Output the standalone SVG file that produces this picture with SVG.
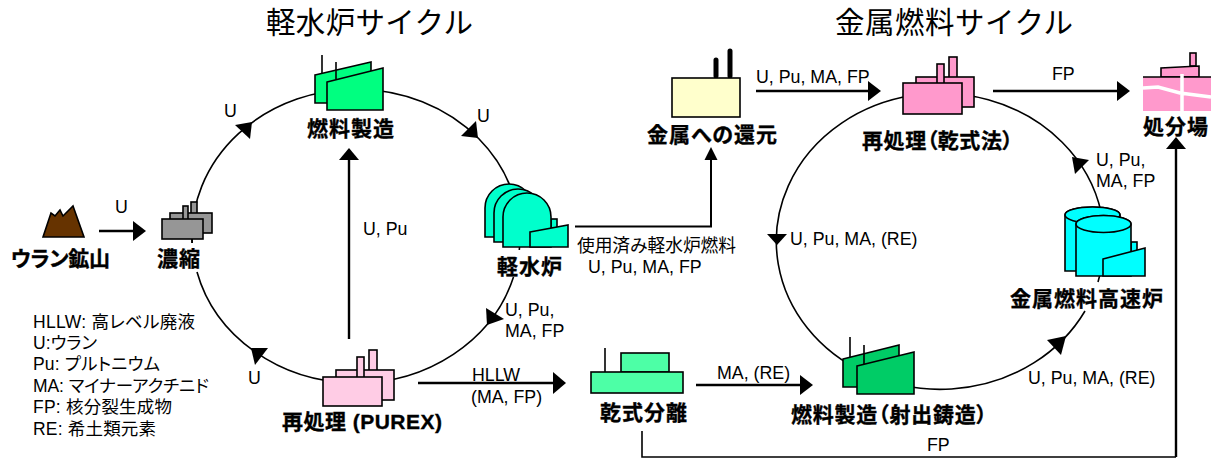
<svg xmlns="http://www.w3.org/2000/svg" width="1213" height="459" viewBox="0 0 1213 459">
<style>
text{font-family:"Liberation Sans","Noto Sans CJK JP",sans-serif;fill:#000}
.t{font-size:29.5px;font-family:"Noto Sans CJK JP",sans-serif}
.n{font-size:21px;font-weight:700;font-feature-settings:"palt";stroke:#000;stroke-width:.35}
.e{font-size:17.8px}
.l{font-size:17.5px;font-feature-settings:"palt"}
.s{stroke:#000;stroke-width:1.6}
.c{fill:none;stroke:#000;stroke-width:1.6}
.a{fill:none;stroke:#000;stroke-width:2.4}
.h{fill:#000;stroke:none}
</style>
<rect width="1213" height="459" fill="#fff"/>
<g id="titles">
<text class="t" x="266" y="33" textLength="207">軽水炉サイクル</text>
<text class="t" x="835" y="33" textLength="238">金属燃料サイクル</text>
</g>
<g id="connectors">
<path class="c" d="M513.5,277 A164,147 0 0 1 197,272"/>
<path class="c" d="M192.2,243 A164,147 0 1 1 519.3,250"/>
<path class="c" d="M1085,311 A164,148 0 1 1 1098,282"/>
<path class="h" d="M252,122 L235,125 L250,139Z"/>
<path class="h" d="M478,138 L461,136 L476,121Z"/>
<path class="h" d="M487,325 L486,308 L504,319Z"/>
<path class="h" d="M251,348 L268,348 L255,365Z"/>
<path class="h" d="M1072,157 L1089,160 L1075,174Z"/>
<path class="h" d="M777,245 L767,234 L787,234Z"/>
<path class="h" d="M1066,336 L1047,340 L1061,355Z"/>
<path class="a" d="M99,231 H134"/><path class="h" d="M146,231 L133,221 V241Z"/>
<path class="a" d="M349,339 V159"/><path class="h" d="M349,148 L339,160 H359Z"/>
<path class="a" d="M575,226.500 H711 V159" style="stroke-width:2"/><path class="h" d="M711,147 L704.500,160 H717.500Z"/>
<path class="a" d="M756,91 H869"/><path class="h" d="M881,91 L868,81 V101Z"/>
<path class="a" d="M993,91 H1118"/><path class="h" d="M1130,91 L1117,81 V101Z"/>
<path class="c" d="M642,431 V457 H1176"/>
<path class="a" d="M1176,457 V148"/><path class="h" d="M1176,137 L1166,149 H1186Z"/>
<path class="a" d="M418,383 H554"/><path class="h" d="M566,383 L553,372 V394Z"/>
<path class="a" d="M696,385 H801"/><path class="h" d="M813,385 L800,375 V395Z"/>
</g>
<g id="edge-labels">
<text class="e" x="224" y="117">U</text>
<text class="e" x="115" y="213">U</text>
<text class="e" x="363" y="235">U, Pu</text>
<text class="e" x="477" y="122">U</text>
<text class="e" x="577" y="252" textLength="159">使用済み軽水炉燃料</text>
<text class="e" x="588" y="273">U, Pu, MA, FP</text>
<text class="e" x="505" y="316">U, Pu,</text>
<text class="e" x="505" y="337">MA, FP</text>
<text class="e" x="472" y="381">HLLW</text>
<text class="e" x="471" y="403">(MA, FP)</text>
<text class="e" x="248" y="384">U</text>
<text class="e" x="717" y="379">MA, (RE)</text>
<text class="e" x="756" y="83">U, Pu, MA, FP</text>
<text class="e" x="1052" y="80">FP</text>
<text class="e" x="1096" y="166">U, Pu,</text>
<text class="e" x="1096" y="187">MA, FP</text>
<text class="e" x="790" y="245">U, Pu, MA, (RE)</text>
<text class="e" x="1028" y="384">U, Pu, MA, (RE)</text>
<text class="e" x="927" y="451">FP</text>
</g>
<g id="legend">
<text class="l" x="33" y="328" textLength="162">HLLW: 高レベル廃液</text>
<text class="l" x="33" y="349" textLength="64">U:ウラン</text>
<text class="l" x="33" y="370" textLength="127">Pu: プルトニウム</text>
<text class="l" x="33" y="392" textLength="176">MA: マイナーアクチニド</text>
<text class="l" x="33" y="413" textLength="139">FP: 核分裂生成物</text>
<text class="l" x="33" y="435" textLength="123">RE: 希土類元素</text>
</g>
<g id="node-mine">
<path class="s" fill="#663300" d="M43,237 L51,213 L55,216 L60,210 L63,216 L73,206 L84,237Z"/>
<text class="n" x="11" y="266" textLength="99">ウラン鉱山</text>
</g>
<g id="node-enrichment" fill="#969696">
<rect class="s" x="191" y="202" width="6" height="12"/>
<rect class="s" x="170" y="213" width="42" height="20"/>
<rect class="s" x="183" y="206" width="5" height="14"/>
<rect class="s" x="162" y="219" width="41" height="20"/>
<path class="s" d="M192,239 V243"/>
<text class="n" x="157" y="266" textLength="43">濃縮</text>
</g>
<g id="node-fuel-fab" fill="#00ff80">
<path class="s" d="M322,55 V73"/>
<path class="s" d="M315,75 L371,62 V103 H315Z"/>
<path class="s" d="M327,82 L383,68 V110 H327Z"/>
<path class="s" d="M336,62 V79"/>
<text class="n" x="307" y="136" textLength="87">燃料製造</text>
</g>
<g id="node-lwr" fill="#00ffcc">
<path class="s" d="M485,237 V208 A24,24 0 0 1 533,208 V237Z"/>
<path class="s" d="M494,242 V213 A24,24 0 0 1 542,213 V242Z"/>
<rect class="s" x="551" y="219" width="6" height="9"/>
<path class="s" d="M503,247 V217 A24,24 0 0 1 551,217 V247Z"/>
<path class="s" d="M530,232 L568,225 V247 H530Z"/>
<text class="n" x="497" y="274" textLength="65">軽水炉</text>
</g>
<g id="node-purex" fill="#ffcce5">
<rect class="s" x="369" y="350" width="8" height="21"/>
<rect class="s" x="336" y="370" width="58" height="30"/>
<rect class="s" x="357" y="357" width="7" height="21"/>
<rect class="s" x="323" y="377" width="59" height="29"/>
<text class="n" x="282" y="429" textLength="160">再処理 (PUREX)</text>
</g>
<g id="node-reduction">
<path d="M716,76 V60 M730,76 V51" fill="none" stroke="#000" stroke-width="5" stroke-linecap="round"/>
<rect class="s" x="672" y="78" width="68" height="39" fill="#ffffcc"/>
<text class="n" x="647" y="142" textLength="130">金属への還元</text>
</g>
<g id="node-dry-separation" fill="#4dffa6">
<path class="s" d="M605,348 V372"/>
<rect class="s" x="621" y="353" width="48" height="19"/>
<rect class="s" x="591" y="372" width="92" height="21"/>
<text class="n" x="600" y="420" textLength="87">乾式分離</text>
</g>
<g id="node-dry-reprocessing" fill="#ff99cc">
<rect class="s" x="949" y="57" width="8" height="21"/>
<rect class="s" x="916" y="77" width="58" height="30"/>
<rect class="s" x="937" y="64" width="7" height="20"/>
<rect class="s" x="903" y="83" width="59" height="31"/>
<text class="n" x="862" y="148" textLength="151">再処理（乾式法）</text>
</g>
<g id="node-disposal">
<rect x="1190" y="53" width="6" height="13" class="s" fill="#ff99cc"/>
<path class="s" fill="#ff99cc" d="M1161,77 V68 L1199,66 V77Z"/>
<rect x="1143" y="77" width="68" height="34" fill="#ff99cc"/>
<path class="s" d="M1143,77 H1211"/>
<path d="M1143,88 L1158,87 L1180,93 L1211,97 M1182,74 V111" fill="none" stroke="#fff" stroke-width="3.500"/>
<text class="n" x="1143" y="134" textLength="65">処分場</text>
</g>
<g id="node-fast-reactor" fill="#00ffff">
<path class="s" d="M1065,215 A27.500,8 0 0 1 1120,215 V271 H1065Z"/>
<ellipse class="s" cx="1092.500" cy="215" rx="27.500" ry="8"/>
<rect class="s" x="1131" y="242" width="6" height="10"/>
<path class="s" d="M1076,224 A27.500,8.500 0 0 1 1131,224 V276 H1076Z"/>
<ellipse class="s" cx="1103.500" cy="224" rx="27.500" ry="8.500"/>
<path class="s" d="M1103,259 L1145,248 V276 H1103Z"/>
<text class="n" x="1010" y="306" textLength="153">金属燃料高速炉</text>
</g>
<g id="node-casting" fill="#00cc66">
<path class="s" d="M850,337 V357"/>
<path class="s" d="M843,359 L899,345 V387 H843Z"/>
<path class="s" d="M857,366 L914,352 V394 H857Z"/>
<path class="s" d="M864,345 V364"/>
<text class="n" x="791" y="422" textLength="196">燃料製造（射出鋳造）</text>
</g>
</svg>
